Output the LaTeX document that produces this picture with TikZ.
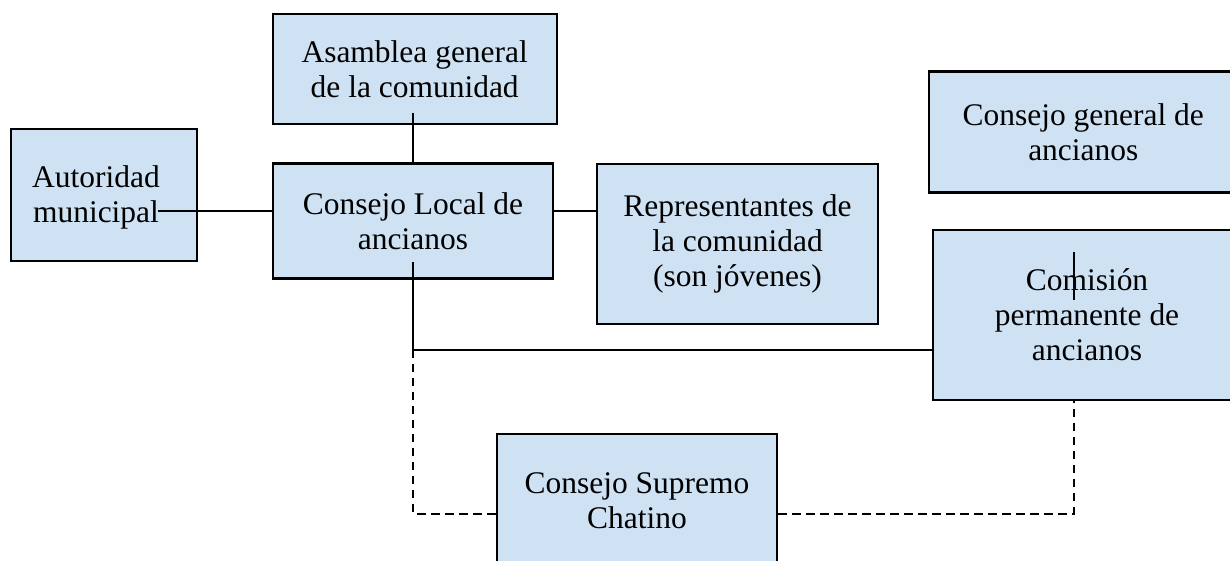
\documentclass[tikz,border=0pt]{standalone}
\usepackage{fontspec}
\setmainfont{Liberation Serif}
\definecolor{boxfill}{RGB}{207,226,243}
\tikzset{every picture/.style={line width=0.75pt}}
\tikzset{orgbox/.style={draw, line width=1.6pt, fill=boxfill, align=center, inner sep=0pt, font=\fontsize{23.6}{26.2}\selectfont},
	orgtext/.style={align=center, inner sep=0pt, font=\fontsize{23.6}{26.2}\selectfont},
	link/.style={line width=1.3pt},
	dashlink/.style={line width=1.3pt, dash pattern=on 6.2pt off 4.3pt}}

\begin{document}
\begin{tikzpicture}[x=0.75pt,y=0.75pt,yscale=-1,xscale=1]
	\useasboundingbox (0,0) rectangle (1230,560);

	%Shape: Rectangle [asamblea]
	\node [orgbox, minimum width=213pt, minimum height=82.5pt] (asamblea) at (414.7,69) {Asamblea general\\de la comunidad};
	%Shape: Rectangle [local]
	\node [orgbox, minimum width=210.5pt, minimum height=86.25pt] (local) at (413,221) {Consejo Local de\\ancianos};
	%Shape: Rectangle [autoridad]
	\node [orgbox, minimum width=140pt, minimum height=98.5pt] (autoridad) at (104,195) {};
	% Text Node
	\node [orgtext] (autoridadtxt) at (96,197) {Autoridad\\municipal};
	%Shape: Rectangle [representantes]
	\node [orgbox, minimum width=210.3pt, minimum height=119.5pt] (representantes) at (737.5,244) {Representantes de\\la comunidad\\(son jóvenes)};
	%Shape: Rectangle [general]
	\node [orgbox, minimum width=232pt, minimum height=90.75pt] (general) at (1083.3,132) {Consejo general de\\ancianos};
	%Shape: Rectangle [comision]
	\node [orgbox, minimum width=231pt, minimum height=127.5pt] (comision) at (1087,315) {Comisión\\permanente de\\ancianos};
	%Shape: Rectangle [supremo]
	\node [orgbox, minimum width=210.5pt, minimum height=100.5pt] (supremo) at (637,501) {Consejo Supremo\\Chatino};

	% Connector points
	\coordinate (asamdrop) at (413.3,113);
	\coordinate (munend) at (158,211);
	\coordinate (localdrop) at (413.3,262);
	\coordinate (bend) at (413.3,350);
	\coordinate (dashcorner) at (413.3,514);
	\coordinate (comstroke) at (1073.7,252);

	%Straight Lines
	\draw [link] (asamdrop) -- (asamdrop |- local.north);
	\draw [link] (munend) -- (munend -| local.west);
	\draw [link] (munend -| local.east) -- (munend -| representantes.west);
	\draw [link] (localdrop) -- (bend) -- (bend -| comision.west);
	\draw [link] (comstroke) -- ++(0,48);
	%Dashed Lines
	\draw [dashlink] (bend) -- (dashcorner) -- (dashcorner -| supremo.west);
	\draw [dashlink] (dashcorner -| supremo.east) -| (comstroke |- comision.south);

\end{tikzpicture}
\end{document}
